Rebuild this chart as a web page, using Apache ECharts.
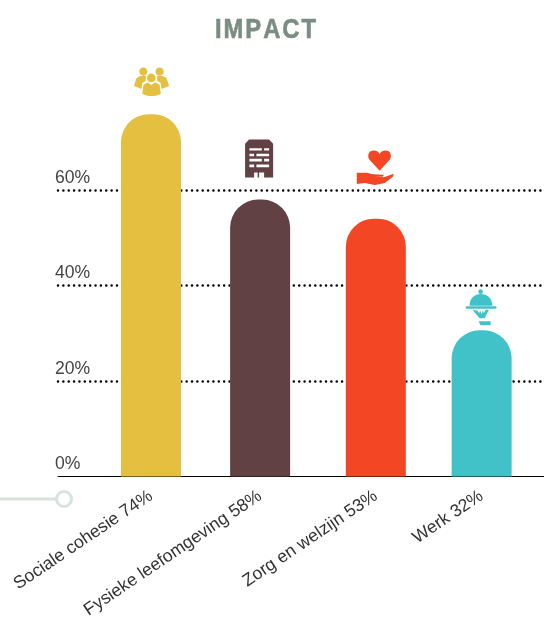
<!DOCTYPE html>
<html><head><meta charset="utf-8">
<style>html,body{margin:0;padding:0;background:#fff}#c{width:544px;height:617px}</style>
<script src="https://cdn.jsdelivr.net/npm/echarts@6/dist/echarts.min.js"></script>
</head><body><div id="c"></div>
<script>
const titleText = 'I\u200AM\u200AP\u200AA\u200AC\u200AT';
const categories = ['Sociale cohesie 74%', 'Fysieke leefomgeving 58%', 'Zorg en welzijn 53%', 'Werk 32%'];
const barHeights = [75.9, 58, 54, 30.6];
const slots = [1, 1.99, 3.04, 4];
const colors = ['#e4bf40', '#624145', '#f24625', '#41c2c8'];
const iconPeople = 'path://M5.2 4.3A4.1 4.1 0 1 1 13.4 4.3A4.1 4.1 0 1 1 5.2 4.3ZM21.5 4.3A4.1 4.1 0 1 1 29.7 4.3A4.1 4.1 0 1 1 21.5 4.3ZM13 10.6A4.3 4.3 0 1 1 21.6 10.6A4.3 4.3 0 1 1 13 10.6ZM2.5 10.5L6.5 8.6L12 8.6L11.5 13.5L8.3 15.5L7.5 21.5L0 18.5ZM22.8 8.6L28.5 8.6L32.5 10.5L35 18.5L27.5 21.5L26.7 15.5L23.5 13.5ZM9.5 17L14 15L17.5 17.5L21 15L25.5 17L26.8 26C22 29 13 29 8.3 26Z';
const iconBuilding = 'path://M4 0L24 0L28 4L28 37L19 37L19 32L14 32L14 37L12.5 37L12.5 32L9 32L9 37L0 37L0 4ZM4.3 8.5L4.3 10.5L16.7 10.5L16.7 8.5ZM19 8.5L19 10.5L24 10.5L24 8.5ZM4.3 13.7L4.3 16.3L9 16.3L9 13.7ZM11.3 13.7L11.3 16.3L24 16.3L24 13.7ZM4.3 18.7L4.3 21.3L16.7 21.3L16.7 18.7ZM19 18.7L19 21.3L24 21.3L24 18.7ZM4.3 24.3L4.3 27L9 27L9 24.3ZM11.3 24.3L11.3 27L24 27L24 24.3Z';
const iconHand = 'path://M22.8 20L12.5 9C10 5 12 0 17 0C20 0 22 1.5 22.8 3.5C23.6 1.5 25.6 0 28.6 0C33.6 0 35.6 5 33 9ZM0 22L10 22L16 23.5L27 24L26 26L18 26L27 26.5L37 23L36 26L28 32L18 34L8 32L0 33Z';
const iconCloche = 'path://M12.7 2.3A2.3 2.3 0 1 1 17.3 2.3A2.3 2.3 0 1 1 12.7 2.3ZM4 16.5C4 9 9 4.7 15.3 4.7C21.6 4.7 26.7 9 26.7 16.5ZM1 16.9L30 16.9C31.3 16.9 31.3 19.3 30 19.3L1 19.3C-0.3 19.3 -0.3 16.9 1 16.9ZM6.7 20.5L12 21.5L13.5 24L14.5 21L16 25L17 21L18 24L20 20.5L23.3 20.5L19 29L14 29ZM13 32L25 32L25 36L15 36Z';
const icons = [iconPeople, iconBuilding, iconHand, iconCloche];
const iconSizes = [[35, 28.5], [28, 38], [37, 34.5], [31, 36]];
const iconOffsets = [[0.5, -32.5], [-1, -41], [-0.5, -51], [-0.5, -23]];
const yTicks = [0, 20, 40, 60];

const chart = echarts.init(document.getElementById('c'), null, {renderer: 'canvas'});
chart.setOption({
  animation: false,
  backgroundColor: '#fff',
  grid: {left: 58, right: 0, top: 94.6, bottom: 140.6, outerBoundsMode: 'none'},
  xAxis: {
    type: 'value', min: 0.156, max: 4.566,
    axisLine: {show: true, onZero: true, lineStyle: {color: '#000', width: 1}},
    axisTick: {show: false},
    splitLine: {show: false},
    axisLabel: {
      customValues: slots, rotate: 34, margin: 18, hideOverlap: false,
      fontFamily: '"Liberation Sans",Arial,sans-serif', fontSize: 17.6, color: '#333',
      formatter: v => categories[slots.indexOf(v)] || ''
    }
  },
  yAxis: {
    type: 'value', min: 0, max: 80, interval: 20,
    axisLine: {show: false}, axisTick: {show: false},
    splitLine: {show: true, showMinLine: false, showMaxLine: false, lineStyle: {color: '#000', width: 2.5, cap: 'round', type: [0.01, 5.35]}},
    axisLabel: {
      inside: true, margin: 0, verticalAlign: 'bottom', align: 'left', padding: [0, 0, 3, -3],
      fontFamily: '"Liberation Sans",Arial,sans-serif', fontSize: 17.6, color: '#444',
      formatter: v => yTicks.includes(v) ? v + '%' : ''
    }
  },
  series: [
    {
      type: 'bar', barWidth: 60, z: 3,
      data: barHeights.map((h, i) => ({value: [slots[i], h], itemStyle: {color: colors[i], borderRadius: [28, 28, 0, 0]}}))
    },
    {
      type: 'scatter', z: 4, clip: false, silent: true,
      data: barHeights.map((h, i) => ({
        value: [slots[i], h], symbol: icons[i], symbolSize: iconSizes[i], symbolOffset: iconOffsets[i],
        itemStyle: {color: colors[i], opacity: 1}
      }))
    }
  ],
  graphic: [
    {type: 'text', x: 265.5, y: 30, scaleX: 0.85, style: {text: titleText, align: 'center', verticalAlign: 'middle',
      font: 'bold 28px "Liberation Sans",Arial,sans-serif', fill: '#7b8c83', stroke: '#7b8c83', lineWidth: 0.6}},
    {type: 'line', shape: {x1: 0, y1: 499, x2: 56, y2: 499}, style: {stroke: '#d8e2dc', lineWidth: 3}},
    {type: 'circle', shape: {cx: 64, cy: 499, r: 7.5}, style: {stroke: '#d8e2dc', lineWidth: 3, fill: '#fff'}}
  ]
});
</script></body></html>
